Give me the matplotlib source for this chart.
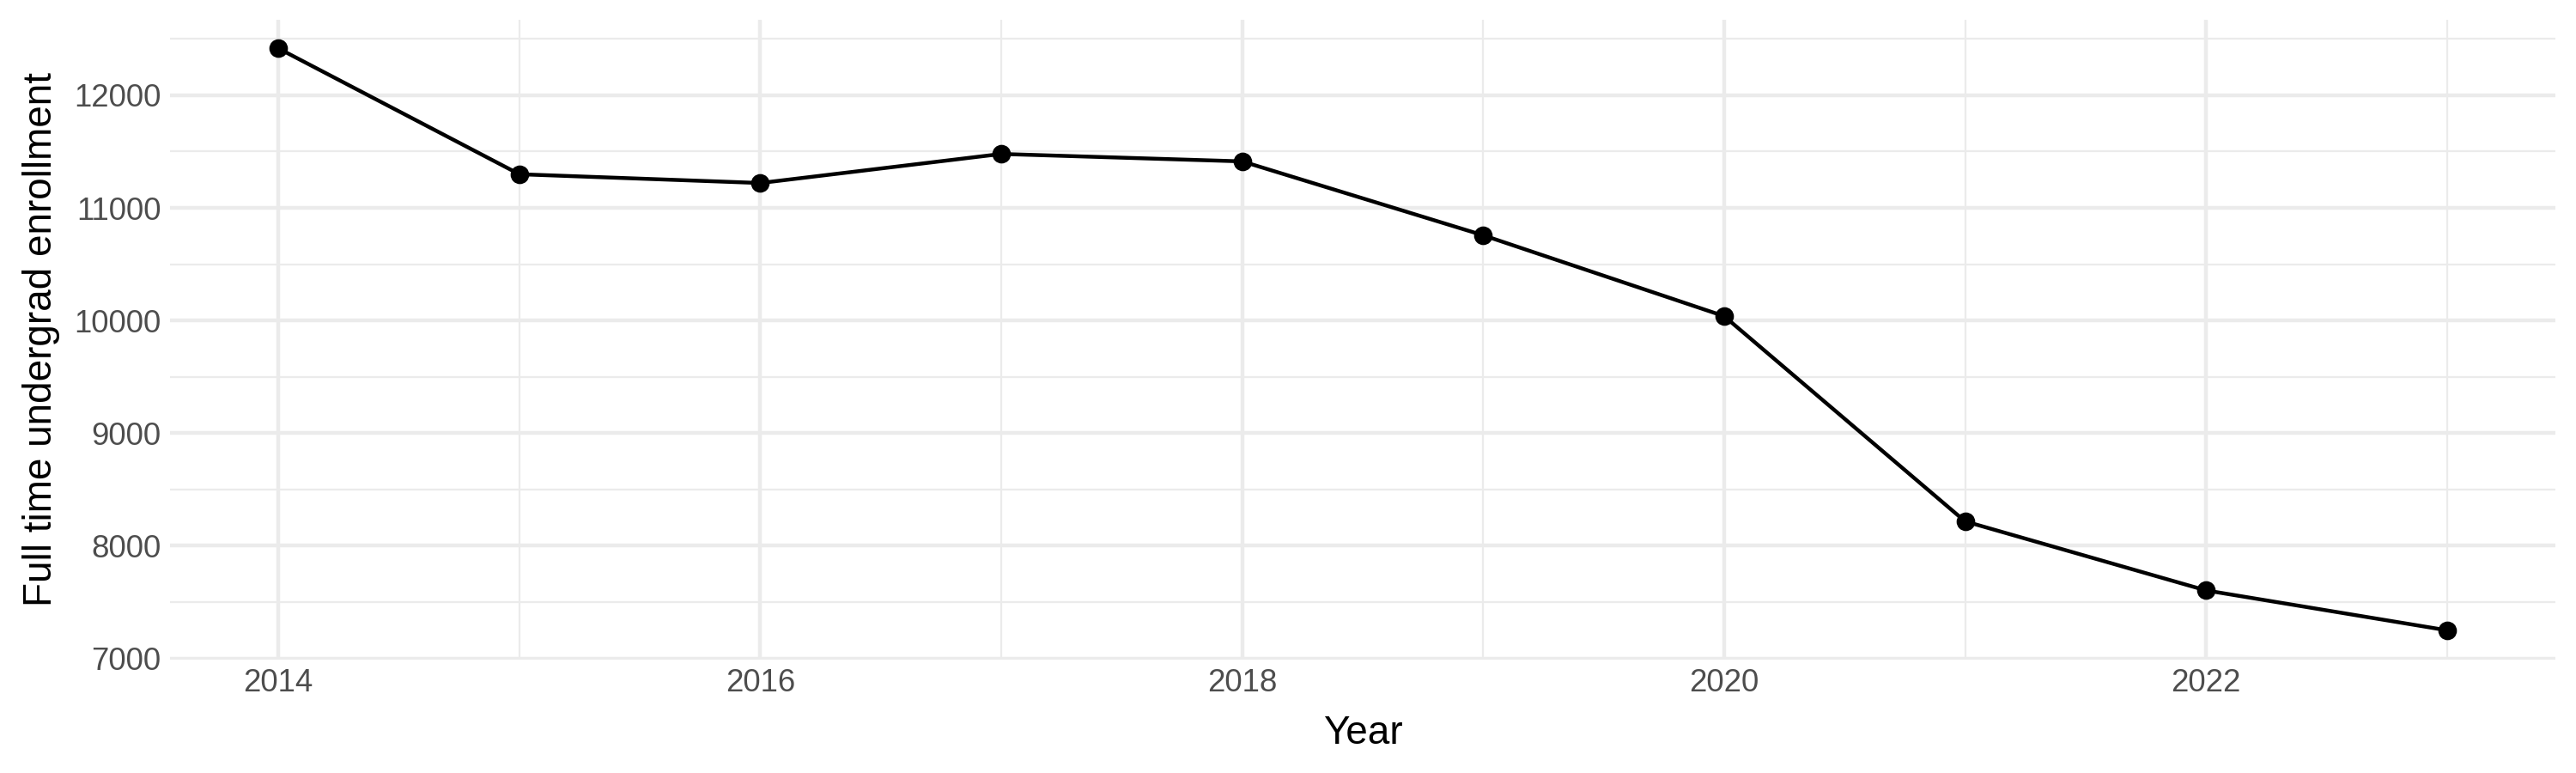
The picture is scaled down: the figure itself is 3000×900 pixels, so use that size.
import numpy as np
import matplotlib
matplotlib.use("Agg")
import matplotlib.pyplot as plt
from matplotlib.ticker import MultipleLocator

plt.rcParams["font.family"] = ["Liberation Sans", "DejaVu Sans"]

years = [2014, 2015, 2016, 2017, 2018, 2019, 2020, 2021, 2022, 2023]
enrollment = [12416, 11299, 11221, 11479, 11413, 10757, 10039, 8217, 7604, 7250]

fig = plt.figure(figsize=(10, 3), dpi=300)
ax = fig.add_axes([0.066, 0.147, 0.926, 0.828])

# ggplot-like 5% expansion
x0, x1 = min(years), max(years)
y0, y1 = min(enrollment), max(enrollment)
xpad = (x1 - x0) * 0.05
ypad = (y1 - y0) * 0.05
ax.set_xlim(x0 - xpad, x1 + xpad)
ax.set_ylim(y0 - ypad, y1 + ypad)

ax.xaxis.set_major_locator(MultipleLocator(2))
ax.xaxis.set_minor_locator(MultipleLocator(1))
ax.yaxis.set_major_locator(MultipleLocator(1000))
ax.yaxis.set_minor_locator(MultipleLocator(500))

ax.grid(which="major", color="#EBEBEB", linewidth=1.07)
ax.grid(which="minor", color="#EBEBEB", linewidth=0.53)
ax.set_axisbelow(True)
for s in ax.spines.values():
    s.set_visible(False)
ax.tick_params(which="both", length=0)
ax.tick_params(axis="both", labelsize=8.8, labelcolor="#4D4D4D", pad=2.5)

ax.plot(years, enrollment, color="black", linewidth=1.07, marker="o",
        markersize=4.2, markerfacecolor="black", markeredgecolor="black")

ax.set_xlabel("Year", fontsize=11, labelpad=4.5)
ax.set_ylabel("Full time undergrad enrollment", fontsize=11, labelpad=4)

fig.savefig("out.png", dpi=300, facecolor="white")
